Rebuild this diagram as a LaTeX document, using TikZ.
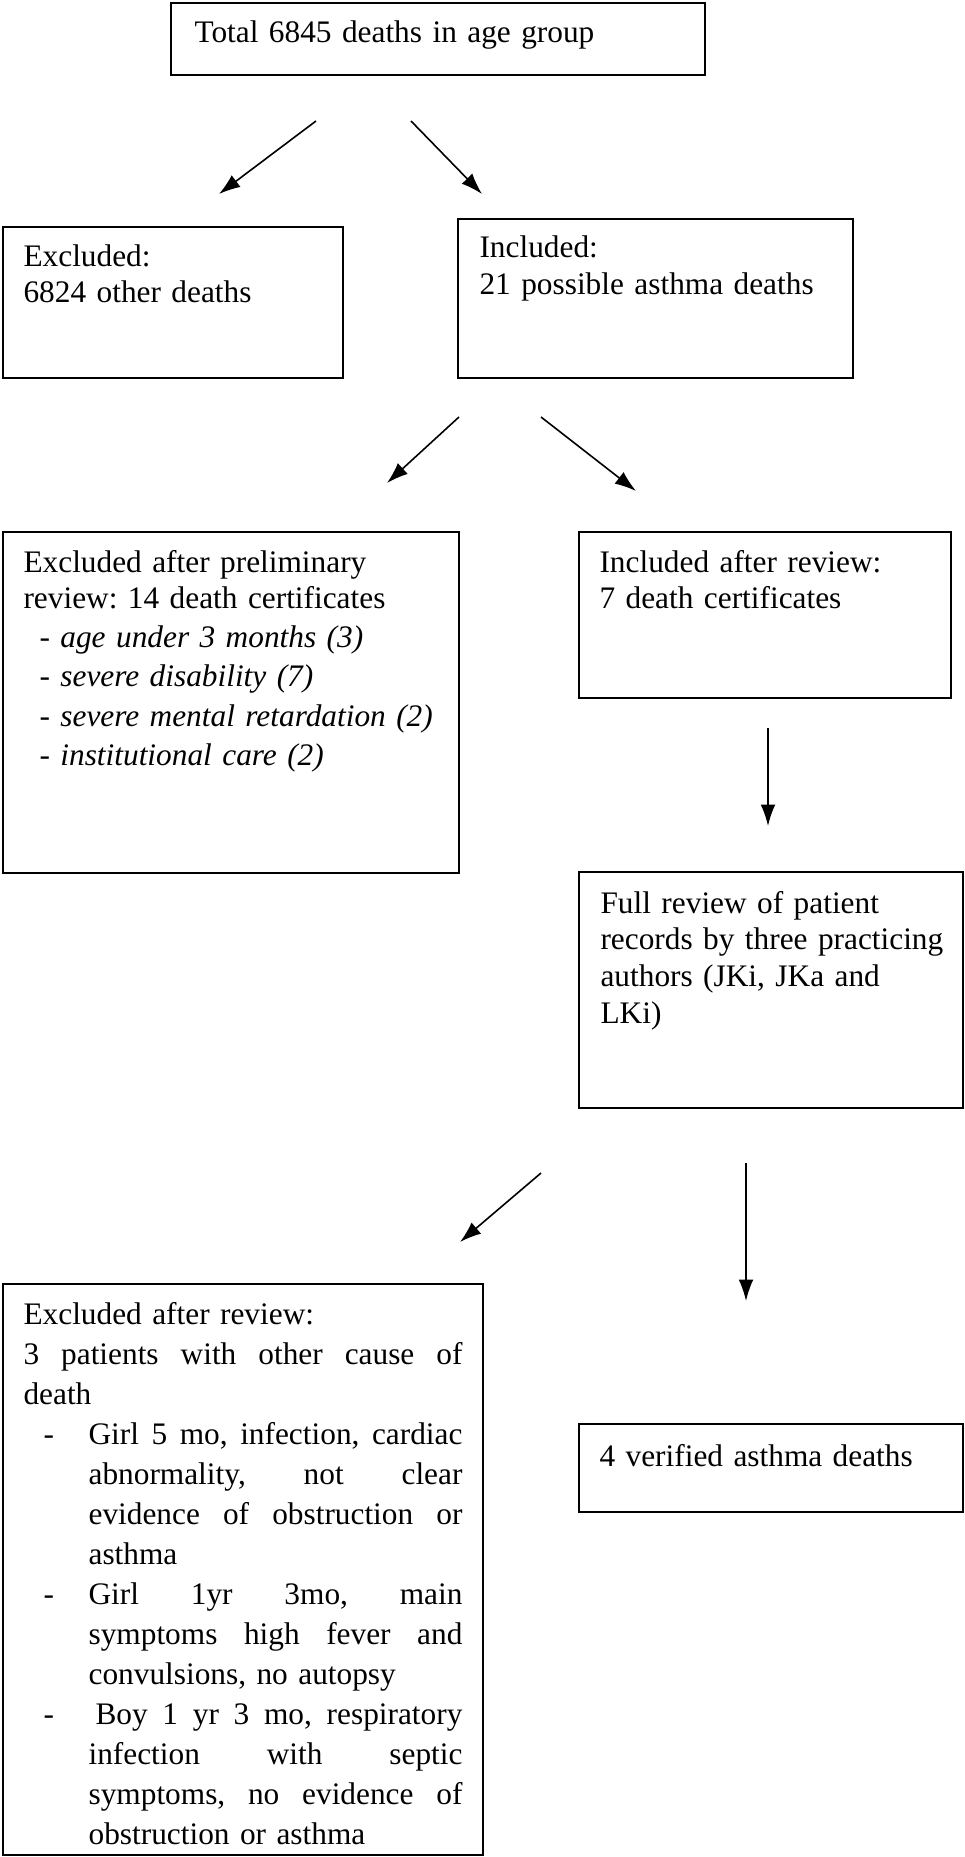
\documentclass[tikz,border=0pt]{standalone}
\usepackage{fontspec}
\setmainfont{Liberation Serif}
\usetikzlibrary{arrows.meta}

\newcommand{\fitline}[2]{\makebox[#1][s]{\spaceskip=3pt plus 1fil\relax #2}}

\tikzset{
  box/.style={draw, line width=0.75pt},
  txt/.style={anchor=base west, inner sep=0pt, text width=180pt,
    font=\fontsize{11.75}{13.8}\selectfont\frenchspacing},
  arr/.style={line width=0.6pt, -{Latex[length=8pt,width=5.5pt]}}
}

\begin{document}
\begin{tikzpicture}[x=0.375pt, y=-0.375pt]

\useasboundingbox (0,0) rectangle (964,1857);

% box corners
\path (171,3) coordinate(T1);
\path (705,75) coordinate(T2);
\path (3,227) coordinate(E1);
\path (343,378) coordinate(E2);
\path (458,219) coordinate(I1);
\path (853,378) coordinate(I2);
\path (3,532) coordinate(P1);
\path (459,873) coordinate(P2);
\path (579,532) coordinate(R1);
\path (951,698) coordinate(R2);
\path (579,872) coordinate(F1);
\path (963,1108) coordinate(F2);
\path (3,1284) coordinate(X1);
\path (483,1855) coordinate(X2);
\path (579,1424) coordinate(V1);
\path (963,1512) coordinate(V2);

\draw [box] (T1) rectangle (T2);
\draw [box] (E1) rectangle (E2);
\draw [box] (I1) rectangle (I2);
\draw [box] (P1) rectangle (P2);
\draw [box] (R1) rectangle (R2);
\draw [box] (F1) rectangle (F2);
\draw [box] (X1) rectangle (X2);
\draw [box] (V1) rectangle (V2);

% arrow ends
\path (316,121) coordinate(a1) (219,194) coordinate(b1);
\path (411,121) coordinate(a2) (482,194) coordinate(b2);
\path (459,417) coordinate(a3) (387,483) coordinate(b3);
\path (541,417) coordinate(a4) (636,491) coordinate(b4);
\path (768,728) coordinate(a5) (768,826) coordinate(b5);
\path (541,1173) coordinate(a6) (460,1242) coordinate(b6);
\path (746,1163) coordinate(a7) (746,1301) coordinate(b7);

\draw [arr] (a1) -- (b1);
\draw [arr] (a2) -- (b2);
\draw [arr] (a3) -- (b3);
\draw [arr] (a4) -- (b4);
\draw [arr] (a5) -- (b5);
\draw [arr] (a6) -- (b6);
\draw [arr] (a7) -- (b7);

% texts
\node [txt, text width=200pt] (total) at (194,43) {Total 6845 deaths in age group};

\node [txt, font=\fontsize{11.75}{13.5}\selectfont] (excl) at (23,267)
  {Excluded:\\ 6824 other deaths};

\node [txt] (incl) at (479,258) {Included:\\ 21 possible asthma deaths};

\node [txt, font=\fontsize{11.75}{14.75}\selectfont\frenchspacing] (prelim) at (23,572)
  {Excluded after preliminary\\[-1.25pt]
   review: 14 death certificates\\
   \hspace*{6pt}- \textit{age under 3 months (3)}\\
   \hspace*{6pt}- \textit{severe disability (7)}\\
   \hspace*{6pt}- \textit{severe mental retardation (2)}\\
   \hspace*{6pt}- \textit{institutional care (2)}};

\node [txt] (review) at (599,572) {Included after review:\\ 7 death certificates};

\node [txt] (full) at (600,913)
  {Full review of patient\\ records by three practicing\\ authors (JKi, JKa and\\ LKi)};

\node [txt, text width=166pt, font=\fontsize{11.75}{15}\selectfont\frenchspacing] (after) at (23,1324)
  {Excluded after review:\\
   \fitline{164.6pt}{3 patients with other cause of}\\
   death\\
   \hspace*{7.5pt}\makebox[16.9pt][l]{-}\fitline{140.2pt}{Girl 5 mo, infection, cardiac}\\
   \hspace*{24.4pt}\fitline{140.2pt}{abnormality, not clear}\\
   \hspace*{24.4pt}\fitline{140.2pt}{evidence of obstruction or}\\
   \hspace*{24.4pt}asthma\\
   \hspace*{7.5pt}\makebox[16.9pt][l]{-}\fitline{140.2pt}{Girl 1yr 3mo, main}\\
   \hspace*{24.4pt}\fitline{140.2pt}{symptoms high fever and}\\
   \hspace*{24.4pt}convulsions, no autopsy\\
   \hspace*{7.5pt}\makebox[16.9pt][l]{-}\hspace*{2.6pt}\fitline{137.6pt}{Boy 1 yr 3 mo, respiratory}\\
   \hspace*{24.4pt}\fitline{140.2pt}{infection with septic}\\
   \hspace*{24.4pt}\fitline{140.2pt}{symptoms, no evidence of}\\
   \hspace*{24.4pt}obstruction or asthma};

\node [txt] (verif) at (599,1466) {4 verified asthma deaths};

\end{tikzpicture}
\end{document}
